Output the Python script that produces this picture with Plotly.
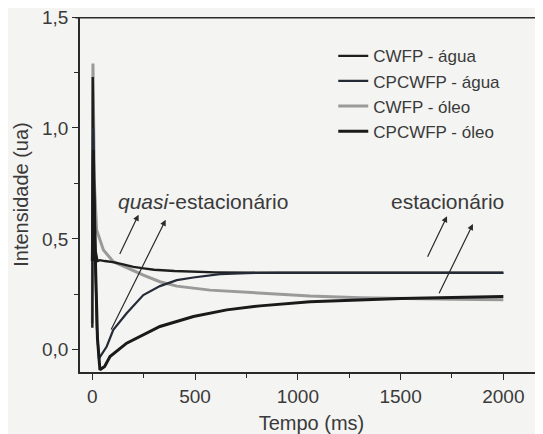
import plotly.graph_objects as go

# ---- data ----
t_cwfp_agua = [0, 2, 8, 15, 25, 37, 60, 100, 150, 200, 250, 300, 400, 500, 600, 800, 1000, 1200, 1400, 1600, 1800, 2000]
v_cwfp_agua = [0.10, 1.23, 0.70, 0.45, 0.40, 0.404, 0.40, 0.395, 0.385, 0.374, 0.367, 0.361, 0.355, 0.352, 0.349, 0.347, 0.347, 0.347, 0.347, 0.347, 0.347, 0.347]

t_cpcwfp_agua = [0, 4, 12, 22, 32, 45, 70, 102, 167, 248, 329, 411, 492, 621, 750, 900, 1000, 1200, 1400, 1600, 1800, 2000]
v_cpcwfp_agua = [0.40, 1.00, 0.50, 0.10, -0.04, -0.02, 0.015, 0.09, 0.165, 0.247, 0.287, 0.314, 0.326, 0.341, 0.346, 0.347, 0.347, 0.347, 0.347, 0.347, 0.347, 0.347]

t_cwfp_oleo = [0, 3, 10, 21, 54, 102, 167, 248, 329, 411, 573, 816, 1059, 1303, 1500, 1750, 2000]
v_cwfp_oleo = [0.12, 1.29, 0.75, 0.54, 0.45, 0.397, 0.371, 0.337, 0.307, 0.287, 0.269, 0.255, 0.243, 0.235, 0.231, 0.228, 0.226]

t_cpcwfp_oleo = [0, 5, 15, 25, 37, 60, 86, 167, 329, 492, 654, 816, 1059, 1303, 1500, 1750, 2000]
v_cpcwfp_oleo = [0.40, 0.90, 0.40, 0.05, -0.09, -0.075, -0.03, 0.03, 0.105, 0.15, 0.18, 0.198, 0.217, 0.225, 0.231, 0.236, 0.24]

x_ticks = [0, 500, 1000, 1500, 2000]
y_ticks = [0.0, 0.5, 1.0, 1.5]
y_tick_labels = ["0,0", "0,5", "1,0", "1,5"]

FONT = "Arial, Liberation Sans, sans-serif"
TXT = "#3a3a3a"
AX = "#2a2a2a"

fig = go.Figure()
# grey drawn first so dark lines are on top; legend order kept with legendrank
fig.add_trace(go.Scatter(x=t_cwfp_oleo, y=v_cwfp_oleo, mode="lines", name="CWFP - óleo",
                         line=dict(color="#9a9a9a", width=3), legendrank=3))
fig.add_trace(go.Scatter(x=t_cwfp_agua, y=v_cwfp_agua, mode="lines", name="CWFP - água",
                         line=dict(color="#1e1e1e", width=2.4), legendrank=1))
fig.add_trace(go.Scatter(x=t_cpcwfp_agua, y=v_cpcwfp_agua, mode="lines", name="CPCWFP - água",
                         line=dict(color="#252b36", width=2.2), legendrank=2))
fig.add_trace(go.Scatter(x=t_cpcwfp_oleo, y=v_cpcwfp_oleo, mode="lines", name="CPCWFP - óleo",
                         line=dict(color="#1a1a1a", width=3), legendrank=4))

# annotations
fig.add_annotation(x=537, y=0.669, xref="x", yref="y", showarrow=False,
                   text="<i>quasi</i>-estacionário", font=dict(size=21, color=TXT, family=FONT))
fig.add_annotation(x=1726, y=0.669, xref="x", yref="y", showarrow=False,
                   text="estacionário", font=dict(size=21, color=TXT, family=FONT))

arrows = [  # (tail_t, tail_v, head_t, head_v)
    (130, 0.425, 225, 0.609),
    (88, 0.085, 357, 0.586),
    (1628, 0.413, 1726, 0.602),
    (1684, 0.248, 1852, 0.567),
]
for tt, tv, ht, hv in arrows:
    fig.add_annotation(x=ht, y=hv, ax=tt, ay=tv, xref="x", yref="y", axref="x", ayref="y",
                       text="", showarrow=True, arrowhead=2, arrowsize=1, arrowwidth=1.2,
                       arrowcolor=AX)

# top frame line of the plot box
fig.add_shape(type="line", xref="paper", yref="paper", x0=-0.01, x1=1, y0=0.998, y1=0.998,
              line=dict(color=AX, width=1.5), layer="above")

# the page body adds an 8px offset, so the figure is 8px smaller and margins shifted
fig.update_layout(
    width=535, height=426,
    margin=dict(l=72, r=0, t=9, b=62, autoexpand=False),
    paper_bgcolor="#f4f4f2", plot_bgcolor="#f4f4f2",
    font=dict(family=FONT, color=TXT, size=19),
    showlegend=True,
    legend=dict(x=0.547, y=0.94, xanchor="left", yanchor="top", bgcolor="rgba(0,0,0,0)",
                font=dict(size=17, color=TXT, family=FONT), tracegroupgap=0),
)
fig.update_xaxes(range=[-60, 2193], tickvals=x_ticks, ticks="outside", ticklen=6, tickwidth=1.2,
                 tickcolor=AX, showline=True, linecolor=AX, linewidth=1.5, mirror=False,
                 showgrid=False, zeroline=False, automargin=False,
                 minor=dict(tickvals=[250, 750, 1250, 1750], ticks="outside", ticklen=4, tickcolor=AX),
                 title=dict(text="Tempo (ms)", font=dict(size=20, color=TXT), standoff=10),
                 tickfont=dict(size=19, color=TXT))
fig.update_yaxes(range=[-0.1, 1.5], tickvals=y_ticks, ticktext=y_tick_labels, ticks="outside", ticklen=6,
                 tickwidth=1.2, tickcolor=AX, showline=True, linecolor=AX, linewidth=1.5,
                 mirror=False, showgrid=False, zeroline=False, automargin=False,
                 ticklabeloverflow="allow",
                 minor=dict(tickvals=[0.25, 0.75, 1.25], ticks="outside", ticklen=4, tickcolor=AX),
                 title=dict(text="Intensidade (ua)", font=dict(size=20, color=TXT), standoff=8),
                 tickfont=dict(size=19, color=TXT))

fig.write_html("out.html")
